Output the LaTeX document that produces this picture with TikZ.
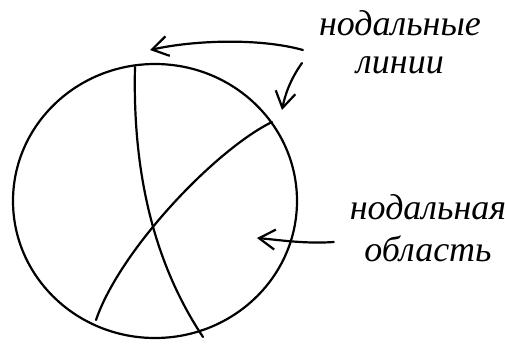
\documentclass[tikz,border=0pt]{standalone}
\usepackage{fontspec}
\setmainfont{Liberation Serif}
\usetikzlibrary{arrows.meta,shapes.geometric}
\begin{document}
\begin{tikzpicture}[x=0.5pt, y=-0.5pt, line width=1.1pt, line cap=round, line join=round,
    pointer/.style={-{Straight Barb[length=8pt,width=10pt,line width=1.1pt]}},
    note/.style={font=\fontsize{18}{18}\selectfont\itshape, align=center, inner sep=0pt}]
  \useasboundingbox (0,0) rectangle (505,345);
  % the membrane
  \node[draw, ellipse, minimum width=142pt, minimum height=137pt, inner sep=0pt] (disk) at (155,201) {};
  % nodal lines
  \coordinate (firsttop) at (135,67);
  \coordinate (firstbot) at (203,337);
  \coordinate (secondtop) at (272,122);
  \coordinate (secondbot) at (96,320);
  \draw (firsttop) .. controls (133,150) and (145,250) .. (firstbot);
  \draw (secondtop) .. controls (215,150) and (120,250) .. (secondbot);
  % labels
  \node[note, font=\fontsize{18}{19}\selectfont\itshape] (lines) at (400,42) {нодальные\\линии};
  \node[note, font=\fontsize{18}{21}\selectfont\itshape] (region) at (428,228) {нодальная\\область};
  % pointers
  \coordinate (tipone) at (150,50);
  \coordinate (tiptwo) at (282,110);
  \coordinate (tipthree) at (257,238);
  \draw[pointer] ([shift={(-15,8)}]lines.west) .. controls (260,38) and (195,40) .. (tipone);
  \draw[pointer] ([shift={(-16,21)}]lines.west) .. controls (290,80) and (285,95) .. (tiptwo);
  \draw[pointer] ([shift={(-15,14)}]region.west) .. controls (305,244) and (280,240) .. (tipthree);
\end{tikzpicture}
\end{document}
